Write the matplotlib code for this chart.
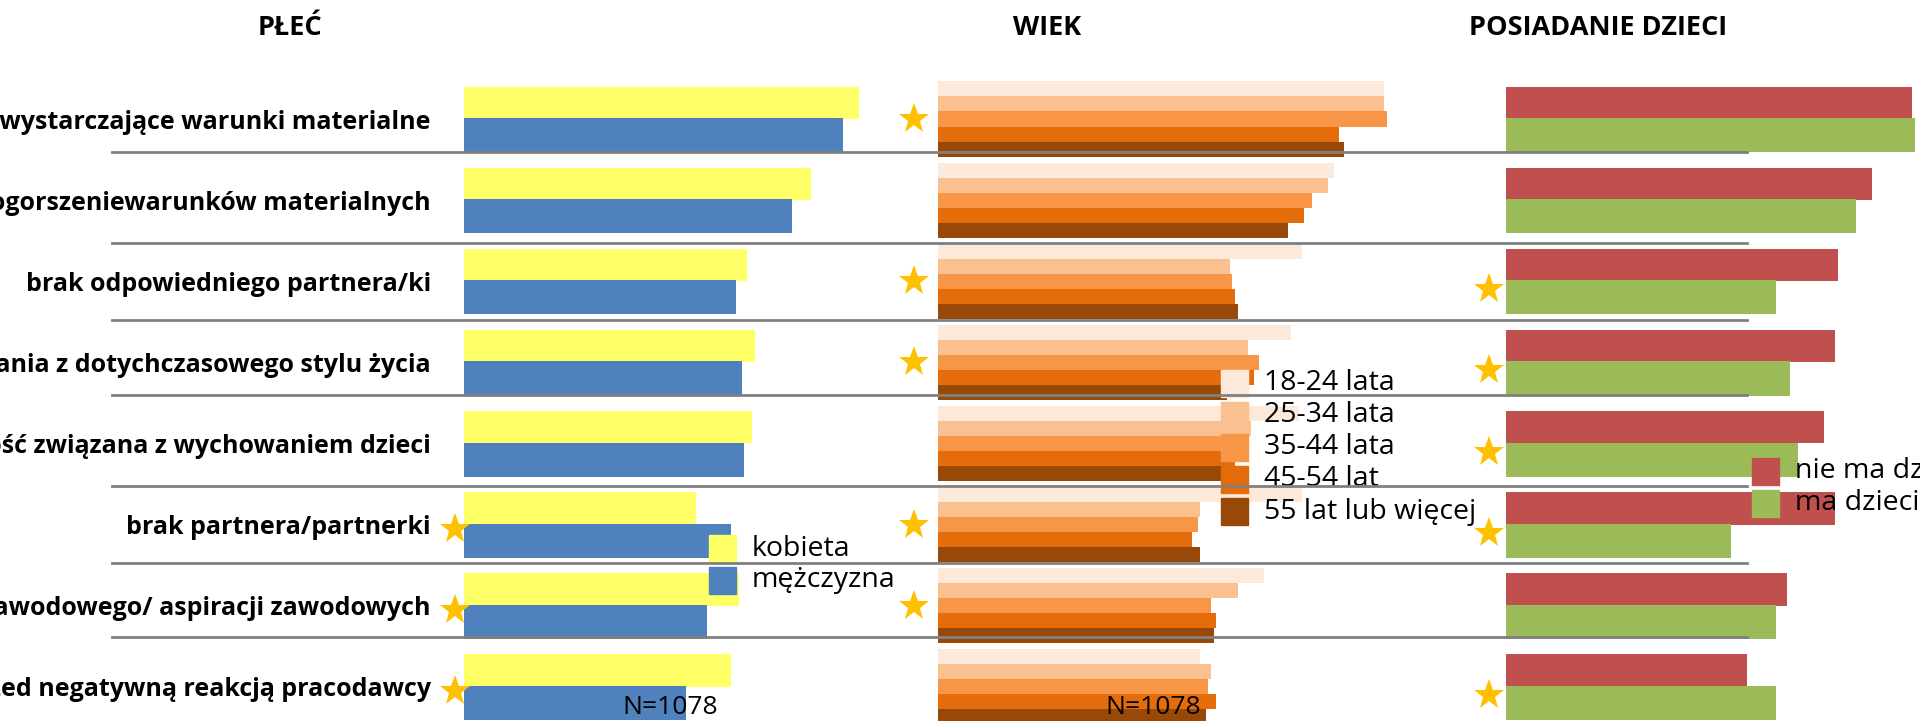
import numpy as np
import matplotlib.pyplot as plt
from matplotlib.patches import Rectangle
from matplotlib.lines import Line2D

# dane
kategorie = ['niewystarczające warunki materialne',
             'pogorszeniewarunków materialnych',
             'brak odpowiedniego partnera/ki',
             'niechęć do rezygnowania z dotychczasowego stylu życia',
             'trudność związana z wychowaniem dzieci',
             'brak partnera/partnerki',
             'chęć rozwoju zawodowego/ aspiracji zawodowych',
             'obawa przed negatywną reakcją pracodawcy']

kobieta = [79.0, 69.4, 56.6, 58.2, 57.6, 46.4, 55.0, 53.4]
mezczyzna = [75.8, 65.6, 54.4, 55.6, 56.0, 53.4, 48.6, 44.4]

wiek_etykiety = ['18-24 lata', '25-34 lata', '35-44 lata', '45-54 lat', '55 lat lub więcej']
wiek_18_24 = [89.2, 79.2, 72.8, 70.6, 72.2, 72.8, 65.2, 52.4]
wiek_25_34 = [89.2, 78.0, 58.4, 62.0, 62.6, 52.4, 60.0, 54.6]
wiek_35_44 = [89.8, 74.8, 58.8, 64.2, 60.4, 52.0, 54.6, 54.0]
wiek_45_54 = [80.2, 73.2, 59.4, 63.2, 59.4, 50.8, 55.6, 55.6]
wiek_55 = [81.2, 70.0, 60.0, 57.8, 57.4, 52.4, 55.2, 53.6]

nie_ma_dzieci = [81.2, 73.2, 66.4, 65.8, 63.6, 65.8, 56.2, 48.2]
ma_dzieci = [81.8, 70.0, 54.0, 56.8, 58.4, 45.0, 54.0, 54.0]

# gwiazdki - istotne roznice
gwiazdki_plec = [5, 6, 7]
gwiazdki_wiek = [0, 2, 3, 5, 6]
gwiazdki_dzieci = [2, 3, 4, 5, 7]

plt.rcParams['font.family'] = ['Open Sans', 'Noto Sans', 'DejaVu Sans']

W, H = 1920, 721
fig = plt.figure(figsize=(W / 100, H / 100), dpi=100)

def fx(px):
    return px / W

def fy(py):
    return 1 - py / H

# wspolny uklad wierszy: srodek wiersza 0 na 119 px, odstep 81.1 px
top_px = 119 - 81.1 * 0.5
bot_px = 119 + 81.1 * 7.5
skala = 5.0  # px na 1%

def make_ax(x0):
    ax = fig.add_axes([fx(x0), fy(bot_px), 100 * skala / W, (bot_px - top_px) / H])
    ax.set_xlim(0, 100)
    ax.set_ylim(7.5, -0.5)
    for s in ax.spines.values():
        s.set_visible(False)
    ax.set_xticks([])
    ax.set_yticks([])
    ax.patch.set_alpha(0)
    return ax

y = np.arange(len(kategorie))
gwiazda = dict(marker='*', color='#FFC000', markersize=23, markeredgewidth=0,
               linestyle='none', clip_on=False, zorder=5)

# PŁEĆ
ax1 = make_ax(464)
ax1.barh(y - 0.2, kobieta, height=0.4, color='#FFFF66')
ax1.barh(y + 0.2, mezczyzna, height=0.42, color='#4F81BD')
ax1.set_yticks(y)
ax1.set_yticklabels(kategorie, fontsize=18, fontweight='bold')
ax1.tick_params(axis='y', length=0, pad=24)
ax1.plot([-1.8] * len(gwiazdki_plec), [r + 0.05 for r in gwiazdki_plec], **gwiazda)

# WIEK
ax2 = make_ax(938)
kolory_wiek = ['#FDE9D9', '#FAC090', '#F79646', '#E46C0A', '#984807']
wiek = [wiek_18_24, wiek_25_34, wiek_35_44, wiek_45_54, wiek_55]
for k, (vals, c) in enumerate(zip(wiek, kolory_wiek)):
    ax2.barh(y + (k - 2) * 0.185, vals, height=0.185, color=c)
ax2.plot([-4.8] * len(gwiazdki_wiek), gwiazdki_wiek, **gwiazda)

# POSIADANIE DZIECI
ax3 = make_ax(1506)
ax3.barh(y - 0.2, nie_ma_dzieci, height=0.4, color='#C0504D')
ax3.barh(y + 0.2, ma_dzieci, height=0.42, color='#9BBB59')
ax3.plot([-3.4] * len(gwiazdki_dzieci), [r + 0.1 for r in gwiazdki_dzieci], **gwiazda)

# tytuly
for x, t in [(290, 'PŁEĆ'), (1047, 'WIEK'), (1598, 'POSIADANIE DZIECI')]:
    fig.text(fx(x), fy(28), t, ha='center', va='center', fontsize=19.5, fontweight='bold')

# legendy
def legenda(x0, y0, labels, colors, step=32, size=27):
    for i, (lab, c) in enumerate(zip(labels, colors)):
        yy = y0 + i * step
        fig.add_artist(Rectangle((fx(x0), fy(yy + size)), size / W, size / H,
                                 transform=fig.transFigure, color=c, zorder=6))
        fig.text(fx(x0 + size + 16), fy(yy + size / 2), lab, ha='left', va='center',
                 fontsize=20.5, zorder=7)

legenda(709, 535, ['kobieta', 'mężczyzna'], ['#FFFF66', '#4F81BD'])
legenda(1221, 370, wiek_etykiety, kolory_wiek)
legenda(1752, 458, ['nie ma dzieci', 'ma dzieci'], ['#C0504D', '#9BBB59'])

fig.text(fx(670), fy(708), 'N=1078', ha='center', va='center', fontsize=19, zorder=7)
fig.text(fx(1153), fy(708), 'N=1078', ha='center', va='center', fontsize=19, zorder=7)

# linie oddzielajace
for ly in [152, 243, 320, 395, 486, 563, 637]:
    fig.add_artist(Line2D([fx(112), fx(1747)], [fy(ly), fy(ly)], color='#808080',
                          linewidth=2, zorder=10))

fig.savefig('out.png', dpi=100)
